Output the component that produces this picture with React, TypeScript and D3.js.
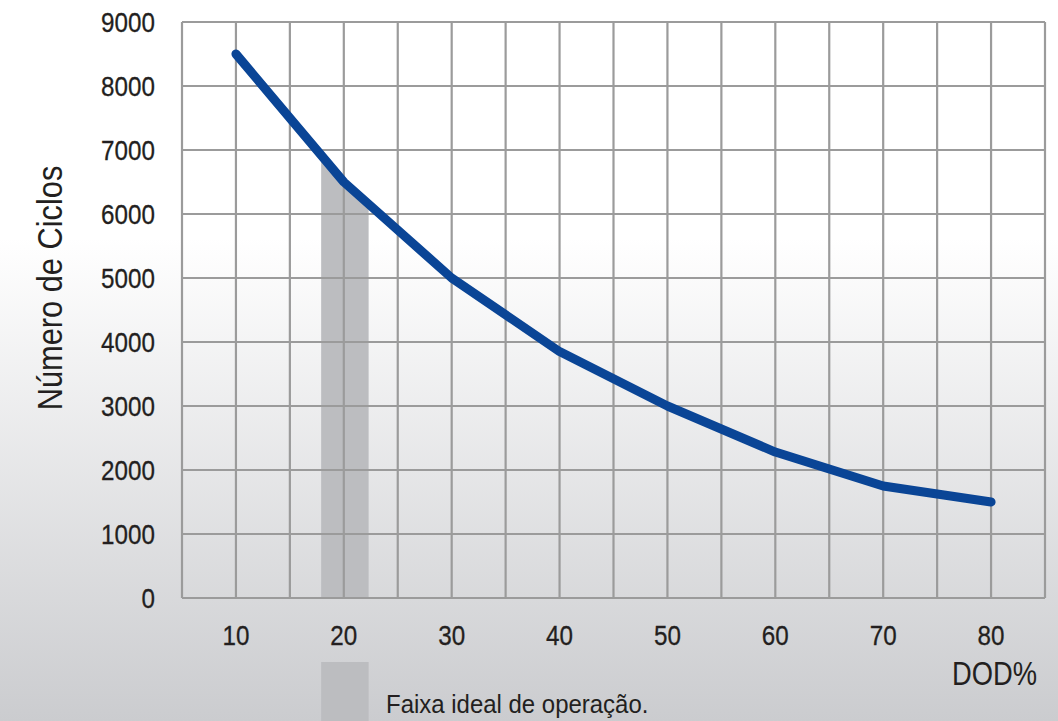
import React from "react";
import * as d3 from "d3";

const W = 1058;
const H = 721;

const dod = [10, 20, 30, 40, 50, 60, 70, 80];
const cycles = [8500, 6500, 5000, 3850, 3000, 2280, 1750, 1500];
const xTicks = [10, 20, 30, 40, 50, 60, 70, 80];
const xGrid = [5, 10, 15, 20, 25, 30, 35, 40, 45, 50, 55, 60, 65, 70, 75, 80, 85];
const yTicks = [0, 1000, 2000, 3000, 4000, 5000, 6000, 7000, 8000, 9000];
const bandRange = [17.9, 22.3];
const yTitle = "Número de Ciclos";
const xTitle = "DOD%";
const legendLabel = "Faixa ideal de operação.";

const FONT = "'Liberation Sans', Arial, sans-serif";
const INK = "#231f20";

export default function App() {
  const x = d3.scaleLinear().domain([5, 85]).range([182, 1045]);
  const y = d3.scaleLinear().domain([0, 9000]).range([598, 22]);
  const pts = dod.map((d, i) => [d, cycles[i]] as [number, number]);
  const line = d3
    .line<[number, number]>()
    .x((d) => x(d[0]))
    .y((d) => y(d[1]))
    .curve(d3.curveLinear);
  const area = d3
    .area<[number, number]>()
    .x((d) => x(d[0]))
    .y0(y(0))
    .y1((d) => y(d[1]))
    .curve(d3.curveLinear);
  const bx0 = x(bandRange[0]);
  const bx1 = x(bandRange[1]);
  const SX = 0.85;

  return (
    <svg
      width={W}
      height={H}
      style={{ position: "absolute", left: 0, top: 0, display: "block" }}
    >
      <defs>
        <linearGradient id="bg" x1="0" y1="0" x2="0" y2="1">
          <stop offset="0" stopColor="#ffffff" />
          <stop offset="0.33" stopColor="#ffffff" />
          <stop offset="1" stopColor="#cbcccf" />
        </linearGradient>
        <clipPath id="bandClip">
          <rect x={bx0} y={0} width={bx1 - bx0} height={H} />
        </clipPath>
      </defs>
      <rect x={0} y={0} width={W} height={H} fill="url(#bg)" />

      {/* band under curve */}
      <path d={area(pts) || ""} fill="#bcbdc0" clipPath="url(#bandClip)" />

      {/* grid */}
      <g stroke="#9b9b9b" strokeWidth={2.2}>
        {xGrid.map((g) => (
          <line key={"vx" + g} x1={x(g)} x2={x(g)} y1={y(9000)} y2={y(0)} />
        ))}
        {yTicks.map((t) => (
          <line key={"hy" + t} x1={x(5)} x2={x(85)} y1={y(t)} y2={y(t)} />
        ))}
      </g>

      {/* line */}
      <path
        d={line(pts) || ""}
        fill="none"
        stroke="#0a4596"
        strokeWidth={9}
        strokeLinecap="round"
        strokeLinejoin="round"
      />

      {/* y tick labels */}
      <g fontFamily={FONT} fontSize={28.5} fill={INK} stroke={INK} strokeWidth={0.3} textAnchor="end">
        {yTicks.map((t) => (
          <text key={"yl" + t} transform={`translate(155,${y(t) + 10}) scale(${SX},1)`}>
            {t}
          </text>
        ))}
      </g>

      {/* x tick labels */}
      <g fontFamily={FONT} fontSize={28.5} fill={INK} stroke={INK} strokeWidth={0.3} textAnchor="middle">
        {xTicks.map((t) => (
          <text key={"xl" + t} transform={`translate(${x(t)},645) scale(${SX},1)`}>
            {t}
          </text>
        ))}
      </g>

      <text
        fontFamily={FONT}
        fontSize={35}
        fill={INK}
        textAnchor="middle"
        transform={`translate(62,288) rotate(-90) scale(0.88,1)`}
      >
        {yTitle}
      </text>

      <text
        fontFamily={FONT}
        fontSize={33.5}
        fill={INK}
        textAnchor="end"
        transform={`translate(1037,685) scale(0.815,1)`}
      >
        {xTitle}
      </text>

      {/* legend */}
      <rect x={bx0} y={662} width={bx1 - bx0} height={H - 662} fill="#bcbdc0" />
      <text
        fontFamily={FONT}
        fontSize={25.5}
        fill={INK}
        transform={`translate(386,713) scale(0.94,1)`}
      >
        {legendLabel}
      </text>
    </svg>
  );
}
